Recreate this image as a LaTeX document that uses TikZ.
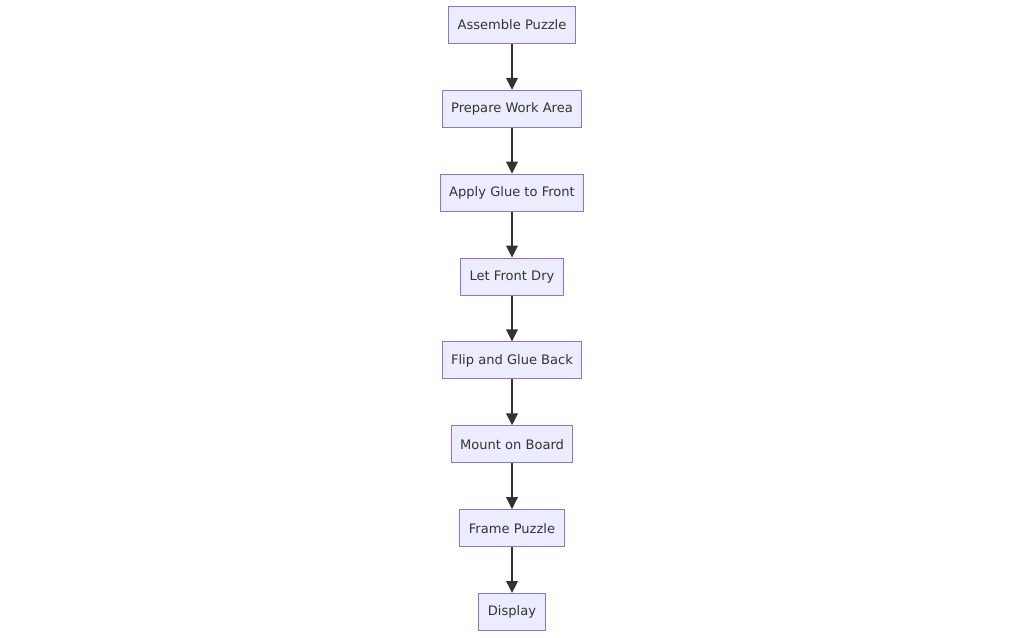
\documentclass[tikz,border=0pt]{standalone}
\usepackage{fontspec}
\setmainfont{DejaVu Sans}
\usetikzlibrary{arrows.meta,positioning}
\definecolor{boxfill}{HTML}{ECECFF}
\definecolor{boxline}{HTML}{9370DB}
\definecolor{arrowgray}{HTML}{333333}
\begin{document}
\begin{tikzpicture}[x=0.75pt,y=-0.75pt,font=\fontsize{9.8}{11.5}\selectfont,
 stepbox/.style={draw=boxline,fill=boxfill,line width=0.75pt,minimum height=27.75pt,inner xsep=6.75pt,text=arrowgray},
 flow/.style={draw=arrowgray,line width=1.6pt,-{Triangle[length=9pt,width=8.5pt]}},
 node distance=34.4pt]
 \useasboundingbox (0,0) rectangle (1024,637);
 \node[stepbox] (assemble) at (512,25) {Assemble Puzzle};
 \node[stepbox,below=of assemble] (prepare) {Prepare Work Area};
 \node[stepbox,below=of prepare] (glue) {Apply Glue to Front};
 \node[stepbox,below=of glue] (dry) {Let Front Dry};
 \node[stepbox,below=of dry] (flip) {Flip and Glue Back};
 \node[stepbox,below=of flip] (mount) {Mount on Board};
 \node[stepbox,below=of mount] (frame) {Frame Puzzle};
 \node[stepbox,below=of frame] (display) {Display};
 \foreach \a/\b in {assemble/prepare,prepare/glue,glue/dry,dry/flip,flip/mount,mount/frame,frame/display}
  \draw[flow] (\a) -- (\b);
\end{tikzpicture}
\end{document}
